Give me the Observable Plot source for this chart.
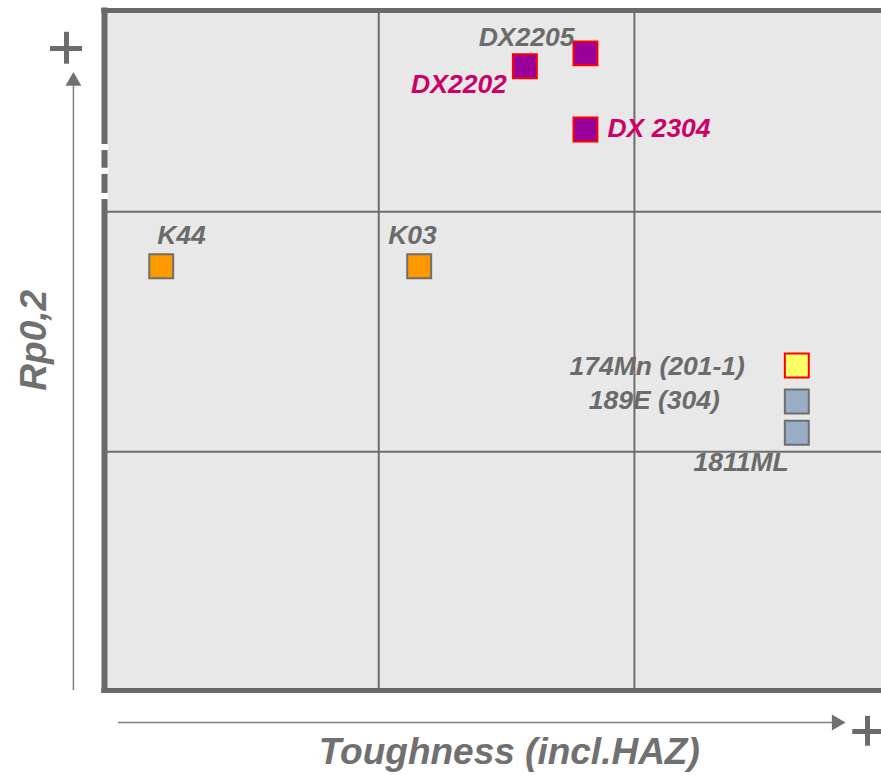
<!DOCTYPE html>
<html><head><meta charset="utf-8">
<script src="https://cdn.jsdelivr.net/npm/d3@7"></script>
<script src="https://cdn.jsdelivr.net/npm/@observablehq/plot@0.6"></script>
<style>
body{margin:0;background:#fff;overflow:hidden}
#chart svg{display:block}
</style>
</head><body><div id="chart"></div>
<script>
// ---- data ----
const names = ["DX2205", "DX2202", "DX 2304", "K44", "K03", "174Mn (201-1)", "189E (304)", "1811ML"];
const toughness = [61.9, 54.1, 61.9, 7.3, 40.5, 89.1, 89.1, 89.1];
const strength = [93.7, 91.8, 82.5, 62.4, 62.4, 47.8, 42.5, 37.9];
const groups = ["DX", "DX", "DX", "K", "K", "174Mn", "STD", "STD"];
const gridX = [35.3, 68.2];
const gridY = [35.1, 70.4];
const xTitle = "Toughness (incl.HAZ)";
const yTitle = "Rp0,2";

// ---- styles / layout ----
const fillOf = {DX: "#990099", K: "#ff9900", "174Mn": "#ffff66", STD: "#9aadc7"};
const strokeOf = {DX: "#ff0000", K: "#6e6e6e", "174Mn": "#ff0000", STD: "#6e6e6e"};
const labelColor = ["#6b6b6b", "#cc0066", "#cc0066", "#6b6b6b", "#6b6b6b", "#6b6b6b", "#6b6b6b", "#6b6b6b"];
const labelLayout = [
  {dx: -11, dy: -16, anchor: "end"},
  {dx: -18, dy: 18, anchor: "end"},
  {dx: 22, dy: -1, anchor: "start"},
  {dx: -4, dy: -31, anchor: "start"},
  {dx: -31, dy: -31, anchor: "start"},
  {dx: -52, dy: 1, anchor: "end"},
  {dx: -77, dy: -1, anchor: "end"},
  {dx: -8, dy: 30, anchor: "end"}
];
const dashGaps = [[80.3, 79.4], [76.8, 75.9], [73.1, 72.2]];

const pts = names.map((n, i) => ({name: n, x: toughness[i], y: strength[i], g: groups[i], i}));
const gray = "#6b6b6b";
const font = "'Liberation Sans', Arial, sans-serif";

const labelMarks = pts.map(p => Plot.text([p], {
  x: "x", y: "y", text: "name",
  dx: labelLayout[p.i].dx, dy: labelLayout[p.i].dy,
  textAnchor: labelLayout[p.i].anchor,
  fill: labelColor[p.i], fontSize: 26.5, fontWeight: "bold", fontStyle: "italic",
  fontFamily: font
}));

const chart = Plot.plot({
  width: 881, height: 775,
  marginLeft: 104, marginRight: 0, marginTop: 10, marginBottom: 85,
  x: {domain: [0, 100], axis: null},
  y: {domain: [0, 100], axis: null},
  style: {fontFamily: font, background: "white", overflow: "visible"},
  marks: [
    // plot area
    Plot.rect([{}], {x1: 0, x2: 102, y1: 0, y2: 100, fill: "#e8e8e8"}),
    Plot.ruleX(gridX, {y1: 0, y2: 100, stroke: "#6e6e6e", strokeWidth: 2}),
    Plot.ruleY(gridY, {x1: 0, x2: 102, stroke: "#6e6e6e", strokeWidth: 2}),
    Plot.ruleY([100, 0], {x1: -0.35, x2: 102, stroke: "#696969", strokeWidth: 5}),
    Plot.ruleX([0], {y1: -0.35, y2: 100.35, stroke: "#696969", strokeWidth: 6}),
    Plot.ruleX(dashGaps, {x: () => 0, y1: d => d[0], y2: d => d[1], stroke: "white", strokeWidth: 7}),
    // axis arrows
    Plot.ruleX([-4], {y1: 0, y2: 89.8, stroke: "#808080", strokeWidth: 1.5}),
    Plot.dot([{}], {x: -4, y: 89.6, symbol: "triangle", r: 5.9, fill: "#707070", stroke: null}),
    Plot.ruleY([-4.7], {x1: 1.8, x2: 94.3, stroke: "#808080", strokeWidth: 1.5}),
    Plot.dot([{}], {x: 94.2, y: -4.7, symbol: "triangle", r: 5.9, rotate: 90, fill: "#707070", stroke: null}),
    // plus signs
    Plot.ruleY([94.4], {x1: -6.95, x2: -2.83, stroke: gray, strokeWidth: 5}),
    Plot.ruleX([-4.89], {y1: 92.1, y2: 96.8, stroke: gray, strokeWidth: 5}),
    Plot.ruleY([-6.03], {x1: 96.3, x2: 101, stroke: gray, strokeWidth: 5}),
    Plot.ruleX([98.2], {y1: -3.8, y2: -8.2, stroke: gray, strokeWidth: 5}),
    // axis titles
    Plot.text([yTitle], {x: -9.1, y: 51.5, text: d => d, rotate: -90, fontSize: 37, fontWeight: "bold", fontStyle: "italic", fill: "#707070"}),
    Plot.text([xTitle], {x: 52.1, y: -9.1, text: d => d, fontSize: 37, fontWeight: "bold", fontStyle: "italic", fill: "#707070"}),
    // points
    Plot.dot(pts, {x: "x", y: "y", symbol: "square", r: 13.5,
      fill: d => fillOf[d.g], stroke: d => strokeOf[d.g], strokeWidth: 2}),
    ...labelMarks
  ]
});
document.getElementById("chart").appendChild(chart);
</script>
</body></html>
